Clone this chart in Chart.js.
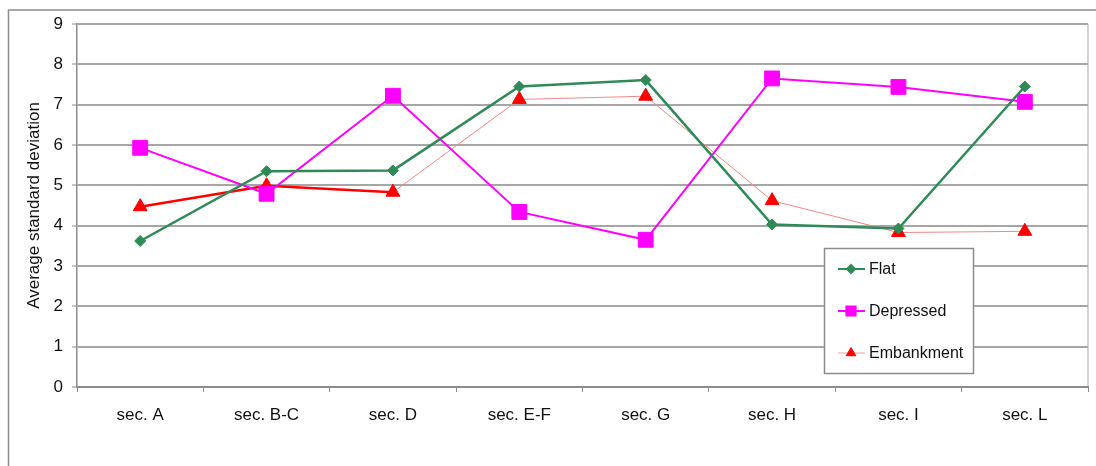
<!DOCTYPE html>
<html>
<head>
<meta charset="utf-8">
<script src="https://cdn.jsdelivr.net/npm/chart.js@4/dist/chart.umd.min.js"></script>
<style>
	html, body	{ margin: 0; padding: 0; background: #fff; }
	canvas		{ display: block; }
</style>
</head>
<body>
<canvas id="myLineChart" width="1096" height="466"></canvas>
<script>
/****************************
 ****	data
 ****************************/

const	SECTIONS	= [ "sec. A", "sec. B-C", "sec. D", "sec. E-F", "sec. G", "sec. H", "sec. I", "sec. L" ];
const	FLAT		= [ 3.62, 5.35, 5.37, 7.45, 7.61, 4.03, 3.93, 7.45 ];
const	DEPRESSED	= [ 5.93, 4.79, 7.22, 4.34, 3.65, 7.65, 7.44, 7.07 ];
const	EMBANKMENT	= [ 4.47, 4.99, 4.83, 7.13, 7.21, 4.62, 3.83, 3.86 ];
const	Y_TICKS		= [ 0, 1, 2, 3, 4, 5, 6, 7, 8, 9 ];

const	BOLD_SEGMENTS	= 2;	//	first two embankment segments are drawn thick
const	FONT		= "'Liberation Sans', Arial, sans-serif";

/****************************
 ****	plugins
 ****************************/

const	framePlugin	= {
	id: 'frame',
	beforeDraw: function ( chart ) {
		let	ctx	= chart.ctx;
		let	area	= chart.chartArea;

		ctx.save();
		ctx.fillStyle	= '#fff';
		ctx.fillRect( 0, 0, chart.width, chart.height );
		ctx.strokeStyle	= '#8c8c8c';
		ctx.lineWidth	= 1.5;
		ctx.strokeRect( 8.5, 10, chart.width + 20, chart.height + 20 );

		//	right edge of the plot
		ctx.strokeStyle	= '#c4c4c4';
		ctx.lineWidth	= 1.5;
		ctx.beginPath();
		ctx.moveTo( area.right, area.top );
		ctx.lineTo( area.right, area.bottom );
		ctx.stroke();
		ctx.restore();
	}
};

const	legendBoxPlugin	= {
	id: 'legendBox',
	afterDraw: function ( chart ) {
		let	ctx	= chart.ctx;
		let	box	= { x: 824, y: 248, w: 149, h: 125 };

		ctx.save();
		ctx.fillStyle	= '#fff';
		ctx.fillRect( box.x, box.y, box.w, box.h );
		ctx.strokeStyle	= '#8c8c8c';
		ctx.lineWidth	= 1.5;
		ctx.strokeRect( box.x + 0.5, box.y + 0.5, box.w, box.h );

		chart.data.datasets.forEach( ( ds, i ) => {
			let	y	= 269 + i * 42;

			ctx.strokeStyle	= ds.legendLine;
			ctx.lineWidth	= ds.legendWidth;
			ctx.beginPath();
			ctx.moveTo( 838, y );
			ctx.lineTo( 865, y );
			ctx.stroke();

			ctx.fillStyle	= ds.pointBackgroundColor;
			ctx.strokeStyle	= ds.pointBorderColor;
			Chart.helpers.drawPoint( ctx, {
				pointStyle: ds.pointStyle,
				radius: ds.legendRadius,
				rotation: 0,
				borderWidth: 1,
			}, 851, y );

			ctx.fillStyle	= '#111';
			ctx.font	= '16px ' + FONT;
			ctx.textAlign	= 'left';
			ctx.textBaseline	= 'middle';
			ctx.fillText( ds.label, 869, y + 1 );
		});
		ctx.restore();
	}
};

/****************************
 ****	chart
 ****************************/

window.addEventListener( 'load', function () {
	let	ctx	= document.getElementById( "myLineChart" );

	new Chart( ctx, {
		type: 'line',
		data: {
			labels: SECTIONS,
			datasets: [
				{
					label: 'Flat',
					data: FLAT,
					borderColor: "#2e8b57",
					borderWidth: 2.5,
					pointStyle: 'rectRot',
					pointRadius: 5.5,
					pointBackgroundColor: "#2e8b57",
					pointBorderColor: "#2e8b57",
					pointBorderWidth: 1,
					legendLine: "#2e8b57",
					legendWidth: 2,
					legendRadius: 4,
					fill: false,
					tension: 0,
				},
				{
					label: 'Depressed',
					data: DEPRESSED,
					borderColor: "#ff00ff",
					borderWidth: 2,
					pointStyle: 'rect',
					pointRadius: 10.5,
					pointBackgroundColor: "#ff00ff",
					pointBorderColor: "#ff00ff",
					pointBorderWidth: 1,
					legendLine: "#ff00ff",
					legendWidth: 2,
					legendRadius: 6.5,
					fill: false,
					tension: 0,
				},
				{
					label: 'Embankment',
					data: EMBANKMENT,
					borderColor: "#ff0000",
					borderWidth: 2.5,
					segment: {
						borderColor: c => c.p0DataIndex < BOLD_SEGMENTS ? "#ff0000" : "#f08a8a",
						borderWidth: c => c.p0DataIndex < BOLD_SEGMENTS ? 2.5 : 1,
					},
					pointStyle: 'triangle',
					pointRadius: 8,
					pointBackgroundColor: "#ff0000",
					pointBorderColor: "#ff0000",
					pointBorderWidth: 1,
					legendLine: "#f4a0a0",
					legendWidth: 1,
					legendRadius: 5.5,
					fill: false,
					tension: 0,
				},
			],
		},
		options: {
			responsive: false,
			animation: false,
			events: [],
			layout: {
				autoPadding: false,	//	<-- big markers would otherwise push the plot edge in
				padding: { top: 24, right: 8, left: 0, bottom: 0 },
			},
			plugins: {
				legend: { display: false },
				tooltip: { enabled: false },
			},
			scales: {
				x: {
					offset: true,
					grid: {
						offset: true,
						drawOnChartArea: false,
						drawTicks: true,
						tickLength: 5,
						color: '#8c8c8c',
						lineWidth: 1,
					},
					border: { display: true, color: '#8c8c8c', width: 2 },
					ticks: {
						color: '#111',
						padding: 13,
						maxRotation: 0,
						font: { family: FONT, size: 17 },
					},
					afterFit: function ( scale ) {
						scale.height		= 79;
						scale.paddingLeft	= 0;	//	labels sit inside their categories
						scale.paddingRight	= 0;
					},
				},
				y: {
					min: Y_TICKS[ 0 ],
					max: Y_TICKS[ Y_TICKS.length - 1 ],
					afterBuildTicks: function ( scale ) {
						scale.ticks = Y_TICKS.map( v => ( { value: v } ) );
					},
					grid: {
						color: '#a6a6a6',
						lineWidth: 2,
						drawTicks: true,
						tickLength: 5,
						tickColor: '#8c8c8c',
						tickWidth: 1,
					},
					border: { display: true, color: '#8c8c8c', width: 1.5 },
					ticks: {
						color: '#111',
						padding: 9,
						font: { family: FONT, size: 17 },
					},
					title: {
						display: true,
						text: 'Average standard deviation',
						color: '#111',
						padding: { top: 24, bottom: 0 },
						font: { family: FONT, size: 17 },
					},
					afterFit: function ( scale ) {
						scale.width = 77;
					},
				},
			},
		},
		plugins: [ framePlugin, legendBoxPlugin ],
	});
});
</script>
</body>
</html>
